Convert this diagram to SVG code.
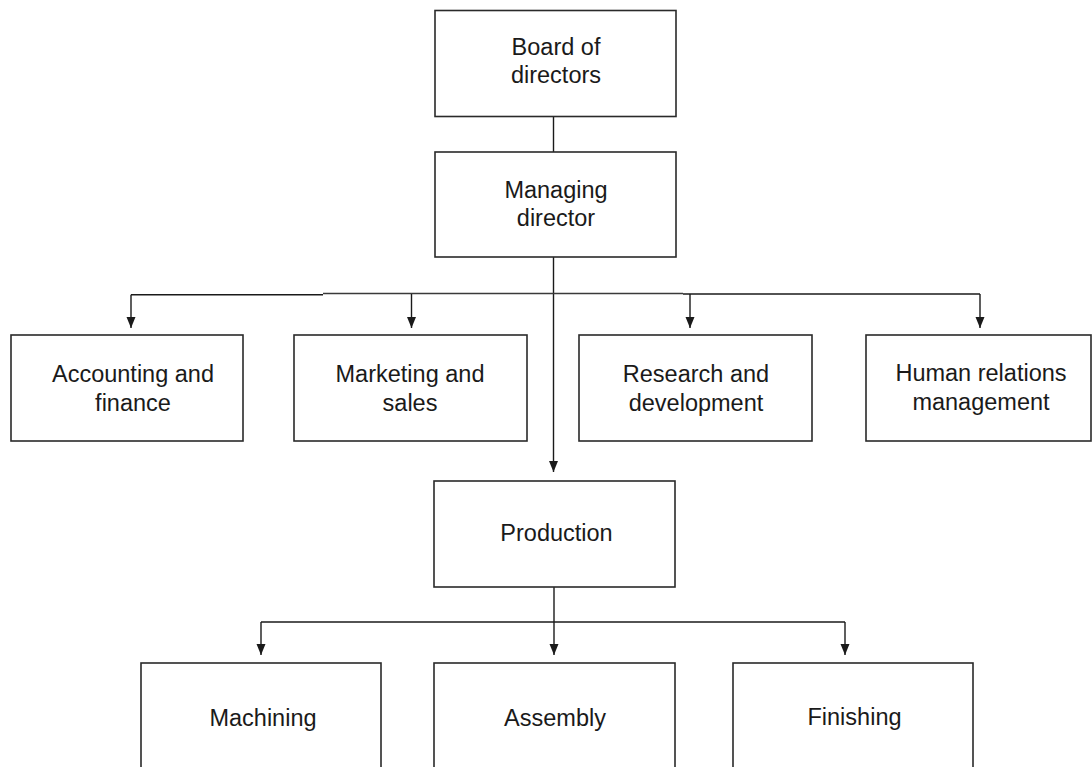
<svg xmlns="http://www.w3.org/2000/svg" width="1092" height="767" viewBox="0 0 1092 767">
  <style>
    .box { fill: #ffffff; stroke: #2a2a2a; stroke-width: 1.6; }
    .lbl { font-family: "Liberation Sans", Arial, Helvetica, sans-serif; font-size: 23.5px; fill: #1a1a1a; text-anchor: middle; }
    .conn { fill: none; stroke: #1a1a1a; stroke-width: 1.4; }
  </style>
  <defs>
    <marker id="arr" markerWidth="12" markerHeight="10" refX="11" refY="4.5" orient="auto" markerUnits="userSpaceOnUse">
      <path d="M0,0 L11,4.5 L0,9 z" fill="#1a1a1a"/>
    </marker>
  </defs>
  <rect width="1092" height="767" fill="#ffffff"/>

  <g id="connectors">
    <line class="conn" x1="553.5" y1="117" x2="553.5" y2="152"/>
    <line class="conn" x1="553.5" y1="257" x2="553.5" y2="472" marker-end="url(#arr)"/>
    <path class="conn" d="M131,294.7 H323"/>
    <path class="conn" d="M323,293.5 H683" style="stroke:#3a3a3a;stroke-width:1.6"/>
    <path class="conn" d="M683,294 H980"/>
    <line class="conn" x1="131" y1="294.7" x2="131" y2="328" marker-end="url(#arr)"/>
    <line class="conn" x1="411.5" y1="294" x2="411.5" y2="328" marker-end="url(#arr)"/>
    <line class="conn" x1="690" y1="294" x2="690" y2="328" marker-end="url(#arr)"/>
    <line class="conn" x1="980" y1="294" x2="980" y2="328" marker-end="url(#arr)"/>
    <line class="conn" x1="554" y1="587" x2="554" y2="622"/>
    <path class="conn" d="M261,622 H845"/>
    <line class="conn" x1="261" y1="622" x2="261" y2="655" marker-end="url(#arr)"/>
    <line class="conn" x1="554" y1="622" x2="554" y2="655" marker-end="url(#arr)"/>
    <line class="conn" x1="845" y1="622" x2="845" y2="655" marker-end="url(#arr)"/>
  </g>

  <g id="board">
    <rect class="box" x="435" y="10.5" width="241" height="106"/>
    <text class="lbl" x="556" y="55">Board of</text>
    <text class="lbl" x="556" y="83">directors</text>
  </g>
  <g id="managing">
    <rect class="box" x="435" y="152" width="241" height="105"/>
    <text class="lbl" x="556" y="198">Managing</text>
    <text class="lbl" x="556" y="226">director</text>
  </g>
  <g id="accounting">
    <rect class="box" x="11" y="335" width="232" height="106"/>
    <text class="lbl" x="133" y="382">Accounting and</text>
    <text class="lbl" x="133" y="411">finance</text>
  </g>
  <g id="marketing">
    <rect class="box" x="294" y="335" width="233" height="106"/>
    <text class="lbl" x="410" y="382">Marketing and</text>
    <text class="lbl" x="410" y="411">sales</text>
  </g>
  <g id="research">
    <rect class="box" x="579" y="335" width="233" height="106"/>
    <text class="lbl" x="696" y="382">Research and</text>
    <text class="lbl" x="696" y="411">development</text>
  </g>
  <g id="human">
    <rect class="box" x="866" y="335" width="225" height="106"/>
    <text class="lbl" x="981" y="381">Human relations</text>
    <text class="lbl" x="981" y="410">management</text>
  </g>
  <g id="production">
    <rect class="box" x="434" y="481" width="241" height="106"/>
    <text class="lbl" x="556.5" y="541">Production</text>
  </g>
  <g id="machining">
    <rect class="box" x="141" y="663" width="240" height="120"/>
    <text class="lbl" x="263" y="726">Machining</text>
  </g>
  <g id="assembly">
    <rect class="box" x="434" y="663" width="241" height="120"/>
    <text class="lbl" x="555" y="726">Assembly</text>
  </g>
  <g id="finishing">
    <rect class="box" x="733" y="663" width="240" height="120"/>
    <text class="lbl" x="854.5" y="725">Finishing</text>
  </g>
</svg>
